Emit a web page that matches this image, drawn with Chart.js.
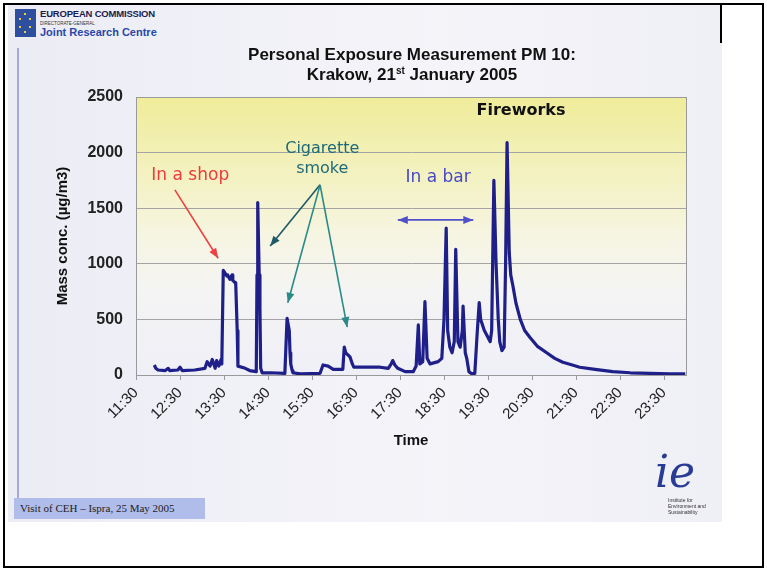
<!DOCTYPE html>
<html>
<head>
<meta charset="utf-8">
<script src="https://cdn.jsdelivr.net/npm/chart.js@4.4.1/dist/chart.umd.min.js"></script>
<style>
  html, body { margin: 0; padding: 0; background: #fff; }
  #page { position: relative; width: 767px; height: 570px; overflow: hidden; font-family: "Liberation Sans", Arial, sans-serif; }
  #slide { position: absolute; left: 8px; top: 5px; width: 714px; height: 517px; background: linear-gradient(90deg, #ececf5, #f4f4f9 60%, #efeff6); }
  #frame { position: absolute; left: 3px; top: 3px; width: 757px; height: 561px; border: 2px solid #000; }
  #cut { position: absolute; left: 720px; top: 5px; width: 2px; height: 38px; background: #000; }
  #chart { position: absolute; left: 0; top: 0; }
  .abs { position: absolute; white-space: nowrap; }
  #title { left: 212px; top: 45px; width: 400px; text-align: center; font-weight: bold; font-size: 17px; line-height: 20px; color: #111; }
  #title sup { font-size: 10px; line-height: 0; vertical-align: 6px; }
  #flag { left: 15px; top: 9px; width: 21px; height: 28px; background: #2d4f9e; }
  #flag i { position: absolute; width: 2px; height: 2px; background: #e8d040; }
  #ec { left: 40px; top: 8px; font-size: 9.5px; font-weight: bold; color: #1c1c4a; letter-spacing: -0.2px; }
  #dg { left: 40px; top: 21px; font-size: 4.5px; color: #333; }
  #jrc { left: 40px; top: 26px; font-size: 11px; font-weight: bold; color: #2a48a8; }
  #side { left: 17px; top: 48px; width: 2px; height: 458px; background: #a8a8dc; }
  #visit { left: 14px; top: 498px; width: 185px; height: 21px; padding-left: 6px; background: #b0bdea; font: 11px "Liberation Serif", serif; line-height: 21px; color: #222; }
  #logo { left: 655px; top: 446px; font: italic 44px "DejaVu Serif", serif; color: #283c96; }
  #ies { left: 668px; top: 497px; font-size: 5px; line-height: 6px; color: #333; }
</style>
</head>
<body>
<div id="page">
  <div id="slide"></div>
  <div id="frame"></div>
  <div id="cut"></div>
  <div id="side" class="abs"></div>
  <div id="flag" class="abs"><i style="left:9px;top:4px"></i><i style="left:4px;top:9px"></i><i style="left:14px;top:9px"></i><i style="left:4px;top:17px"></i><i style="left:14px;top:17px"></i><i style="left:9px;top:22px"></i></div>
  <div id="ec" class="abs">EUROPEAN COMMISSION</div>
  <div id="dg" class="abs">DIRECTORATE-GENERAL</div>
  <div id="jrc" class="abs">Joint Research Centre</div>
  <canvas id="chart" width="767" height="570"></canvas>
  <div id="title" class="abs">Personal Exposure Measurement PM 10:<br>Krakow, 21<sup>st</sup> January 2005</div>
  <div id="visit" class="abs">Visit of CEH – Ispra, 25 May 2005</div>
  <div id="logo" class="abs">ie</div>
  <div id="ies" class="abs">Institute for<br>Environment and<br>Sustainability</div>
</div>
<script>
// tick labels of the time axis (one per hour)
const tickLabels = ['11:30', '12:30', '13:30', '14:30', '15:30', '16:30', '17:30',
    '18:30', '19:30', '20:30', '21:30', '22:30', '23:30'];
const yTicks = [0, 500, 1000, 1500, 2000, 2500];

// PM10 readings
const sampleTimes = ['11:55', '11:57', '12:00', '12:10', '12:14', '12:16', '12:27', '12:30', '12:33', '12:50',
    '13:04', '13:07', '13:11', '13:14', '13:18', '13:20', '13:23', '13:26', '13:27', '13:29',
    '13:31', '13:34', '13:35', '13:38', '13:41', '13:42', '13:45', '13:46', '13:48', '13:49',
    '13:59', '14:05', '14:14', '14:15', '14:16', '14:18', '14:19', '14:20', '14:22', '14:33',
    '14:53', '14:56', '14:59', '15:00', '15:01', '15:03', '15:04', '15:14', '15:41', '15:45',
    '15:52', '15:59', '16:12', '16:14', '16:16', '16:19', '16:22', '16:25', '16:27', '17:03',
    '17:14', '17:18', '17:20', '17:23', '17:27', '17:37', '17:48', '17:52', '17:55', '17:57',
    '18:01', '18:04', '18:07', '18:11', '18:22', '18:27', '18:30', '18:33', '18:35', '18:38',
    '18:41', '18:44', '18:46', '18:49', '18:52', '18:55', '18:56', '18:59', '19:01', '19:04',
    '19:08', '19:12', '19:15', '19:18', '19:20', '19:25', '19:29', '19:33', '19:35', '19:38',
    '19:41', '19:44', '19:46', '19:49', '19:52', '19:54', '19:56', '19:59', '20:01', '20:04',
    '20:08', '20:14', '20:20', '20:27', '20:37', '20:50', '21:01', '21:12', '21:25', '21:35',
    '21:56', '22:20', '22:44', '23:11', '23:38', '23:59'];
const pm10 = [90, 60, 45, 40, 60, 40, 45, 70, 40, 45,
    60, 120, 80, 140, 60, 130, 80, 140, 100, 940,
    920, 890, 900, 860, 900, 850, 830, 820, 400, 80,
    60, 40, 30, 900, 1550, 900, 600, 60, 20, 20,
    15, 510, 400, 200, 100, 40, 20, 10, 15, 90,
    80, 50, 50, 250, 200, 180, 160, 100, 70, 70,
    60, 100, 130, 90, 60, 30, 30, 80, 450, 100,
    120, 660, 150, 100, 120, 150, 500, 1320, 400, 250,
    200, 300, 1130, 300, 250, 400, 620, 200, 150, 30,
    10, 15, 350, 650, 500, 400, 350, 300, 400, 1750,
    1000, 500, 300, 220, 250, 1000, 2090, 1100, 900, 800,
    650, 500, 400, 340, 260, 200, 150, 115, 90, 70,
    50, 30, 20, 15, 10, 10];

const toMin = (s) => {
    const [h, m] = s.split(':').map(Number);
    return h * 60 + m;
};

// callouts placed in data units (time, µg/m3)
const notes = [
    { lines: ['In a shop'], at: ['12:44', 1790], color: '#ee3a3a', font: '17px "DejaVu Sans"' },
    { lines: ['Cigarette', 'smoke'], at: ['15:44', 2030], color: '#1f6a7a', font: '16px "DejaVu Sans"' },
    { lines: ['In a bar'], at: ['18:22', 1775], color: '#4848c8', font: '17px "DejaVu Sans"' },
    { lines: ['Fireworks'], at: ['20:15', 2375], color: '#111', font: 'bold 16px "DejaVu Sans"' },
];
const arrows = [
    { from: ['12:23', 1665], to: ['13:22', 1050], color: '#ee4040' },
    { from: ['15:41', 1710], to: ['14:33', 1160], color: '#1f5a66' },
    { from: ['15:41', 1710], to: ['14:57', 650], color: '#2a8a88' },
    { from: ['15:41', 1710], to: ['16:18', 430], color: '#2a8a88' },
    { from: ['17:27', 1395], to: ['19:10', 1395], color: '#5050c8', both: true },
];

function arrowHead(ctx, x1, y1, x2, y2) {
    const a = Math.atan2(y2 - y1, x2 - x1);
    ctx.beginPath();
    ctx.moveTo(x2, y2);
    ctx.lineTo(x2 - 10 * Math.cos(a) + 4 * Math.sin(a), y2 - 10 * Math.sin(a) - 4 * Math.cos(a));
    ctx.lineTo(x2 - 10 * Math.cos(a) - 4 * Math.sin(a), y2 - 10 * Math.sin(a) + 4 * Math.cos(a));
    ctx.closePath();
    ctx.fill();
}

const plotDecor = {
    id: 'plotDecor',
    beforeDraw(chart) {
        const { ctx, chartArea: a } = chart;
        const g = ctx.createLinearGradient(0, a.top, 0, a.bottom);
        g.addColorStop(0, '#efec9a');
        g.addColorStop(0.25, '#f3f1bc');
        g.addColorStop(0.5, '#f6f5e2');
        g.addColorStop(0.7, '#f4f4f4');
        g.addColorStop(1, '#efeff7');
        ctx.save();
        ctx.fillStyle = g;
        ctx.fillRect(a.left, a.top, a.right - a.left, a.bottom - a.top);
        ctx.restore();
    },
    afterDatasetsDraw(chart) {
        const { ctx, chartArea: a, scales: { x, y } } = chart;
        ctx.save();
        ctx.strokeStyle = '#9a9a9a';
        ctx.lineWidth = 1;
        ctx.strokeRect(a.left + 0.5, a.top + 0.5, a.right - a.left, a.bottom - a.top);

        arrows.forEach((ar) => {
            const x1 = x.getPixelForValue(toMin(ar.from[0])), y1 = y.getPixelForValue(ar.from[1]);
            const x2 = x.getPixelForValue(toMin(ar.to[0])), y2 = y.getPixelForValue(ar.to[1]);
            ctx.strokeStyle = ar.color;
            ctx.fillStyle = ar.color;
            ctx.lineWidth = 1.6;
            ctx.beginPath();
            ctx.moveTo(x1, y1);
            ctx.lineTo(x2, y2);
            ctx.stroke();
            arrowHead(ctx, x1, y1, x2, y2);
            if (ar.both) arrowHead(ctx, x2, y2, x1, y1);
        });

        ctx.textAlign = 'center';
        ctx.textBaseline = 'middle';
        notes.forEach((n) => {
            ctx.font = n.font;
            ctx.fillStyle = n.color;
            const px = x.getPixelForValue(toMin(n.at[0]));
            const py = y.getPixelForValue(n.at[1]);
            n.lines.forEach((t, i) => ctx.fillText(t, px, py + i * 20));
        });
        ctx.restore();
    },
};

new Chart(document.getElementById('chart'), {
    type: 'line',
    data: {
        datasets: [{
            label: 'PM 10',
            data: sampleTimes.map((t, i) => ({ x: toMin(t), y: pm10[i] })),
            borderColor: '#1f1f8a',
            borderWidth: 3.2,
            pointRadius: 0,
            tension: 0,
            borderJoinStyle: 'round',
            fill: false,
        }],
    },
    options: {
        responsive: false,
        devicePixelRatio: 1,
        animation: false,
        layout: { padding: { left: 50, top: 97, right: 81, bottom: 0 } },
        plugins: { legend: { display: false }, tooltip: { enabled: false } },
        scales: {
            x: {
                type: 'linear',
                min: toMin('11:30'),
                max: toMin('23:59') + 1,
                afterBuildTicks: (axis) => { axis.ticks = tickLabels.map((t) => ({ value: toMin(t) })); },
                afterFit: (axis) => { axis.height = 195; },
                grid: { drawOnChartArea: false, drawTicks: true, tickLength: 5, color: '#9a9a9a' },
                border: { color: '#9a9a9a' },
                ticks: {
                    autoSkip: false,
                    minRotation: 45,
                    maxRotation: 45,
                    padding: 4,
                    color: '#222',
                    font: { family: '"Liberation Sans", Arial, sans-serif', size: 15 },
                    callback: (v, i) => tickLabels[i],
                },
                title: {
                    display: true,
                    text: 'Time',
                    color: '#111',
                    padding: { top: 0, bottom: 120 },
                    font: { family: '"Liberation Sans", Arial, sans-serif', size: 15, weight: 'bold' },
                },
            },
            y: {
                min: 0,
                max: 2500,
                afterBuildTicks: (axis) => { axis.ticks = yTicks.map((v) => ({ value: v })); },
                afterFit: (axis) => { axis.width = 86; },
                grid: { color: '#a4a4a4', drawTicks: false },
                border: { color: '#9a9a9a' },
                ticks: {
                    padding: 13,
                    color: '#222',
                    font: { family: '"Liberation Sans", Arial, sans-serif', size: 16, weight: 'bold' },
                    callback: (v) => String(v),
                },
                title: {
                    display: true,
                    text: 'Mass conc. (µg/m3)',
                    color: '#111',
                    padding: { top: 4, bottom: 0 },
                    font: { family: '"Liberation Sans", Arial, sans-serif', size: 15, weight: 'bold' },
                },
            },
        },
    },
    plugins: [plotDecor],
});
</script>
</body>
</html>
